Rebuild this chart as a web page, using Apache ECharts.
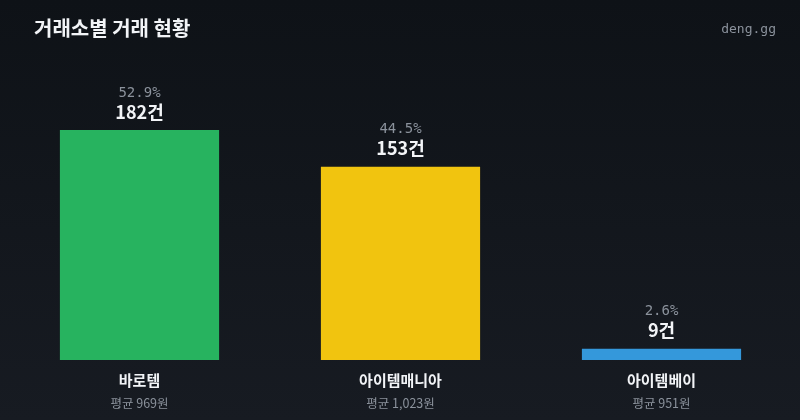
<!DOCTYPE html>
<html>
<head>
<meta charset="utf-8">
<script src="https://cdn.jsdelivr.net/npm/echarts@6/dist/echarts.min.js"></script>
<style>
  html, body { margin: 0; padding: 0; background: #11151b; }
  #chart { width: 800px; height: 420px; }
</style>
</head>
<body>
<div id="chart"></div>
<script>
// exchange data
var exchanges = ['바로템', '아이템매니아', '아이템베이'];
var counts = [182, 153, 9];
var shares = ['52.9%', '44.5%', '2.6%'];
var avgPrices = ['969', '1,023', '951'];
var barColors = ['#27b35f', '#f1c40f', '#3498db'];

var sans = '"Noto Sans CJK KR", "Noto Sans", sans-serif';
var mono = '"DejaVu Sans Mono", monospace';

var chart = echarts.init(document.getElementById('chart'));

var option = {
    backgroundColor: new echarts.graphic.LinearGradient(0, 0, 0, 1, [
        { offset: 0, color: '#0e1217' },
        { offset: 1, color: '#171b22' }
    ]),
    animation: false,
    title: {
        text: '거래소별 거래 현황',
        left: 29, top: 13,
        textStyle: { color: '#f2f4f7', fontSize: 20, fontWeight: 'bold', fontFamily: sans }
    },
    graphic: [{
        type: 'text',
        right: 24, top: 23,
        style: { text: 'deng.gg', fill: '#8b929c', font: '13px ' + mono }
    }],
    grid: { left: 9, right: 8, top: 130, bottom: 60 },
    xAxis: {
        type: 'category',
        data: exchanges,
        axisLine: { show: false },
        axisTick: { show: false },
        axisLabel: {
            margin: 9,
            formatter: function (v, i) {
                return '{n|' + v + '}\n{a|평균 ' + avgPrices[i] + '원}';
            },
            rich: {
                n: { color: '#f2f4f7', fontSize: 15, fontWeight: 'bold', fontFamily: sans, lineHeight: 22 },
                a: { color: '#8b929c', fontSize: 12.5, fontFamily: sans, lineHeight: 24 }
            }
        }
    },
    yAxis: {
        type: 'value',
        min: 0, max: 182,
        show: false
    },
    series: [{
        type: 'bar',
        barWidth: '61%',
        data: counts.map(function (c, i) {
            return { value: c, itemStyle: { color: barColors[i] } };
        }),
        label: {
            show: true,
            position: 'top',
            distance: 8,
            formatter: function (p) {
                return '{p|' + shares[p.dataIndex] + '}\n{c|' + p.value + '건}';
            },
            rich: {
                p: { color: '#8b929c', fontSize: 14, fontFamily: mono, lineHeight: 18 },
                c: { color: '#f2f4f7', fontSize: 18, fontWeight: 'bold', fontFamily: sans, lineHeight: 20 }
            }
        }
    }]
};

chart.setOption(option);
</script>
</body>
</html>
